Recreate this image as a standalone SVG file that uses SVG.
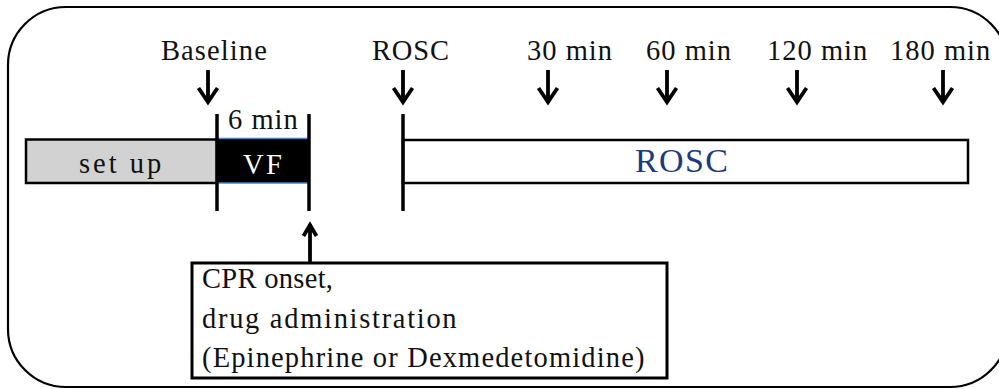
<svg xmlns="http://www.w3.org/2000/svg" width="999" height="389" viewBox="0 0 999 389">
  <style>
    text { font-family: "Liberation Serif", "Times New Roman", Times, serif; fill: #111; }
    .lbl { font-size: 28.5px; letter-spacing: 1px; }
    .tick { stroke: #000; stroke-width: 3.5; fill: none; }
    .arrow { stroke: #000; stroke-width: 3.8; fill: none; stroke-linejoin: miter; }
    .bar { stroke: #000; stroke-width: 2.5; }
  </style>
  <defs>
    <!-- downward time-point marker: stem with a chevron head -->
    <path id="down" d="M0,-33 V0 M-9.5,-15 L0,-1 L9.5,-15"/>
  </defs>

  <!-- frame -->
  <rect x="8" y="7" width="1000" height="380" rx="58" ry="58" fill="#fff" stroke="#000" stroke-width="2.2"/>

  <g id="set-up">
    <rect class="bar" x="26" y="139.5" width="191" height="43.5" fill="#d2d2d2"/>
    <text class="lbl" x="79" y="173" style="letter-spacing:3px">set up</text>
  </g>

  <g id="vf">
    <rect x="217" y="139" width="92" height="44" fill="#000"/>
    <line x1="217" y1="138.5" x2="309" y2="138.5" stroke="#4a7fd0" stroke-width="1.6"/>
    <line x1="217" y1="183" x2="309" y2="183" stroke="#4a7fd0" stroke-width="1.6"/>
    <text class="lbl" x="243" y="174" style="fill:#fff;letter-spacing:2.5px">VF</text>
    <text class="lbl" x="228" y="129">6 min</text>
    <line class="tick" x1="217" y1="114" x2="217" y2="211"/>
    <line class="tick" x1="309" y1="114" x2="309" y2="211"/>
  </g>

  <g id="rosc-phase">
    <rect class="bar" x="403" y="140" width="565" height="43" fill="#fff"/>
    <line class="tick" x1="403" y1="114" x2="403" y2="211"/>
    <text x="635" y="172" font-size="34" style="fill:#1c3a7e;letter-spacing:1.4px">ROSC</text>
  </g>

  <g id="cpr-box">
    <rect x="192" y="263" width="475" height="115" fill="#fff" stroke="#000" stroke-width="3"/>
    <text class="lbl" x="202" y="288" style="letter-spacing:0.3px">CPR onset,</text>
    <text class="lbl" x="202" y="328" style="letter-spacing:1.7px">drug administration</text>
    <text class="lbl" x="202" y="367" style="letter-spacing:1.15px">(Epinephrine or Dexmedetomidine)</text>
  </g>

  <g id="time-points">
    <text class="lbl" x="161" y="60" style="letter-spacing:1.1px">Baseline</text>
    <text class="lbl" x="372" y="60" style="letter-spacing:0.85px">ROSC</text>
    <text class="lbl" x="527" y="60">30 min</text>
    <text class="lbl" x="646" y="60">60 min</text>
    <text class="lbl" x="767" y="60">120 min</text>
    <text class="lbl" x="890" y="60">180 min</text>
  </g>

  <g id="connectors">
    <use href="#down" class="arrow" x="208" y="103"/>
    <use href="#down" class="arrow" x="403" y="103"/>
    <use href="#down" class="arrow" x="548" y="103"/>
    <use href="#down" class="arrow" x="667" y="103"/>
    <use href="#down" class="arrow" x="797" y="103"/>
    <use href="#down" class="arrow" x="943" y="103"/>
    <!-- CPR onset pointer -->
    <path class="arrow" d="M310,263 V224 M303.5,236 L310,225 L316.5,236"/>
  </g>
</svg>
